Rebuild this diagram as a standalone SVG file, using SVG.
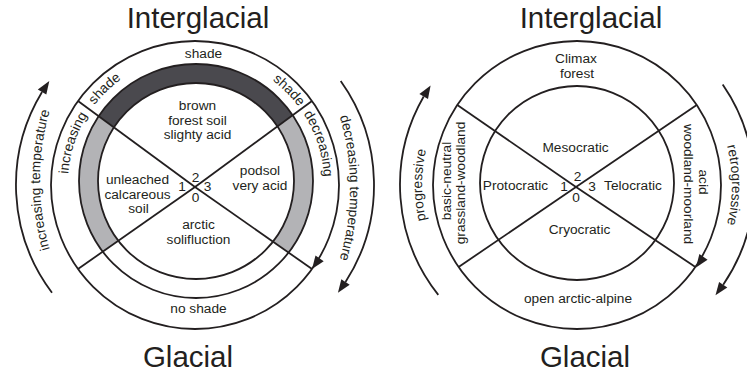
<svg xmlns="http://www.w3.org/2000/svg" width="747" height="376" viewBox="0 0 747 376">
<style>
.t{font-family:"Liberation Sans",Arial,Helvetica,sans-serif;font-size:13.7px;fill:#231f20}
.m{text-anchor:middle}
.title{font-size:29.5px}
.ln{stroke:#231f20;stroke-width:1.8;fill:none}
.ah{fill:#231f20;stroke:none}
.dark{fill:#4a494e}
.light{fill:#b3b3b6}
</style>
<defs>
<clipPath id="ringClip"><circle cx="196" cy="181" r="117"/></clipPath>
<path id="lband" d="M85.1,247 A128,128 0 1 1 306.9,247"/>
<path id="ltempL" d="M53.1,260 A250,250 0 0 1 53.1,100"/>
<path id="ltempR" d="M336.9,108 A250,250 0 0 1 336.9,268"/>
<path id="rtempL" d="M499.5,319.2 A155,155 0 0 1 499.5,50.8"/>
<path id="rtempR" d="M654.5,50.8 A155,155 0 0 1 654.5,319.2"/>
</defs>
<rect width="747" height="376" fill="#ffffff"/>

<g id="left-diagram">
  <g id="left-ring" clip-path="url(#ringClip)">
    <polygon class="dark" points="195,187 -39,15 -39,-100 429,-100 429,15"/>
    <polygon class="light" points="195,187 -39,15 -39,351"/>
    <polygon class="light" points="195,187 429,15 429,351"/>
  </g>
  <circle cx="196" cy="181" r="98" fill="#ffffff"/>
  <g id="left-circles">
    <circle class="ln" cx="195" cy="185" r="144"/>
    <circle class="ln" cx="196" cy="181" r="117"/>
    <circle class="ln" cx="196" cy="181" r="98"/>
  </g>
  <g id="left-connectors">
    <line class="ln" x1="195" y1="187" x2="78" y2="101"/>
    <line class="ln" x1="195" y1="187" x2="312" y2="101"/>
    <line class="ln" x1="195" y1="187" x2="78" y2="269"/>
    <line class="ln" x1="195" y1="187" x2="312" y2="269"/>
    <polygon class="ah" points="312,269 323.7,261.3 315.5,255.5"/>
    <path class="ln" d="M52,292.7 A179,179 0 0 1 42.04,92"/>
    <polygon class="ah" points="49.3,81.1 46.3,94.6 37.8,89.4"/>
    <path class="ln" d="M340.7,81.1 A179,179 0 0 1 345.5,282"/>
    <polygon class="ah" points="337.95,292.7 349.7,284.7 341.3,279.3"/>
  </g>
  <g id="left-labels">
    <text class="t m title" x="198" y="28">Interglacial</text>
    <text class="t m title" x="188" y="367">Glacial</text>
    <text class="t m" x="203.5" y="58">shade</text>
    <text class="t m" x="198.5" y="313">no shade</text>
    <text class="t"><textPath href="#lband" startOffset="75.9">increasing</textPath></text>
    <text class="t"><textPath href="#lband" startOffset="150.8">shade</textPath></text>
    <text class="t"><textPath href="#lband" startOffset="349.7">shade</textPath></text>
    <text class="t"><textPath href="#lband" startOffset="395.4">decreasing</textPath></text>
    <text class="t m"><textPath href="#ltempL" startOffset="50%">increasing temperature</textPath></text>
    <text class="t m"><textPath href="#ltempR" startOffset="50%">decreasing temperature</textPath></text>
  </g>
  <g id="node-brown-forest-soil">
    <text class="t m" x="197.5" y="110">brown</text>
    <text class="t m" x="197.5" y="124.5">forest soil</text>
    <text class="t m" x="197.5" y="139">slighty acid</text>
  </g>
  <g id="node-unleached">
    <text class="t m" x="137.5" y="184">unleached</text>
    <text class="t m" x="137.5" y="198.5">calcareous</text>
    <text class="t m" x="138.5" y="213">soil</text>
  </g>
  <g id="node-podsol">
    <text class="t m" x="260" y="175">podsol</text>
    <text class="t m" x="260" y="190">very acid</text>
  </g>
  <g id="node-arctic-solifluction">
    <text class="t m" x="198.5" y="229">arctic</text>
    <text class="t m" x="198.5" y="243.5">solifluction</text>
  </g>
  <g id="left-numbers">
    <text class="t m" x="195.5" y="182">2</text>
    <text class="t m" x="182" y="191">1</text>
    <text class="t m" x="207.5" y="191">3</text>
    <text class="t m" x="195.5" y="202">0</text>
  </g>
</g>

<g id="right-diagram">
  <g id="right-circles">
    <circle class="ln" cx="577" cy="185" r="144"/>
    <circle class="ln" cx="577" cy="183" r="97"/>
  </g>
  <g id="right-connectors">
    <line class="ln" x1="576" y1="187" x2="457.3" y2="105"/>
    <line class="ln" x1="576" y1="187" x2="696.7" y2="105"/>
    <line class="ln" x1="576" y1="187" x2="458.6" y2="267"/>
    <line class="ln" x1="576" y1="187" x2="695.4" y2="267"/>
    <polygon class="ah" points="696,267.5 707.55,259.7 699.35,253.98"/>
    <path class="ln" d="M438.3,294.9 A177,177 0 0 1 423.7,96.5"/>
    <polygon class="ah" points="430.6,85.5 428,99 419.4,94"/>
    <path class="ln" d="M722.7,84.5 A177,177 0 0 1 723.2,284.7"/>
    <polygon class="ah" points="715.5,295.2 727.3,287.5 719.1,281.9"/>
  </g>
  <g id="right-labels">
    <text class="t m title" x="591" y="28">Interglacial</text>
    <text class="t m title" x="585" y="367">Glacial</text>
    <text class="t m"><textPath href="#rtempL" startOffset="50%">progressive</textPath></text>
    <text class="t m"><textPath href="#rtempR" startOffset="50%">retrogressive</textPath></text>
  </g>
  <g id="node-climax-forest">
    <text class="t m" x="576" y="63">Climax</text>
    <text class="t m" x="577" y="78">forest</text>
  </g>
  <g id="node-basic-neutral">
    <text class="t m" transform="translate(451,181) rotate(-90)">basic-neutral</text>
    <text class="t m" transform="translate(465,183) rotate(-90)">grassland-woodland</text>
  </g>
  <g id="node-acid-woodland">
    <text class="t m" transform="translate(699,182) rotate(90)">acid</text>
    <text class="t m" transform="translate(684,184) rotate(90)">woodland-moorland</text>
  </g>
  <g id="node-open-arctic-alpine">
    <text class="t m" x="578" y="303">open arctic-alpine</text>
  </g>
  <g id="node-mesocratic"><text class="t m" x="575.5" y="152">Mesocratic</text></g>
  <g id="node-protocratic"><text class="t m" x="515.5" y="190">Protocratic</text></g>
  <g id="node-telocratic"><text class="t m" x="633" y="190">Telocratic</text></g>
  <g id="node-cryocratic"><text class="t m" x="579.5" y="234">Cryocratic</text></g>
  <g id="right-numbers">
    <text class="t m" x="577.5" y="181">2</text>
    <text class="t m" x="564" y="191">1</text>
    <text class="t m" x="592" y="191">3</text>
    <text class="t m" x="576" y="202">0</text>
  </g>
</g>
</svg>
